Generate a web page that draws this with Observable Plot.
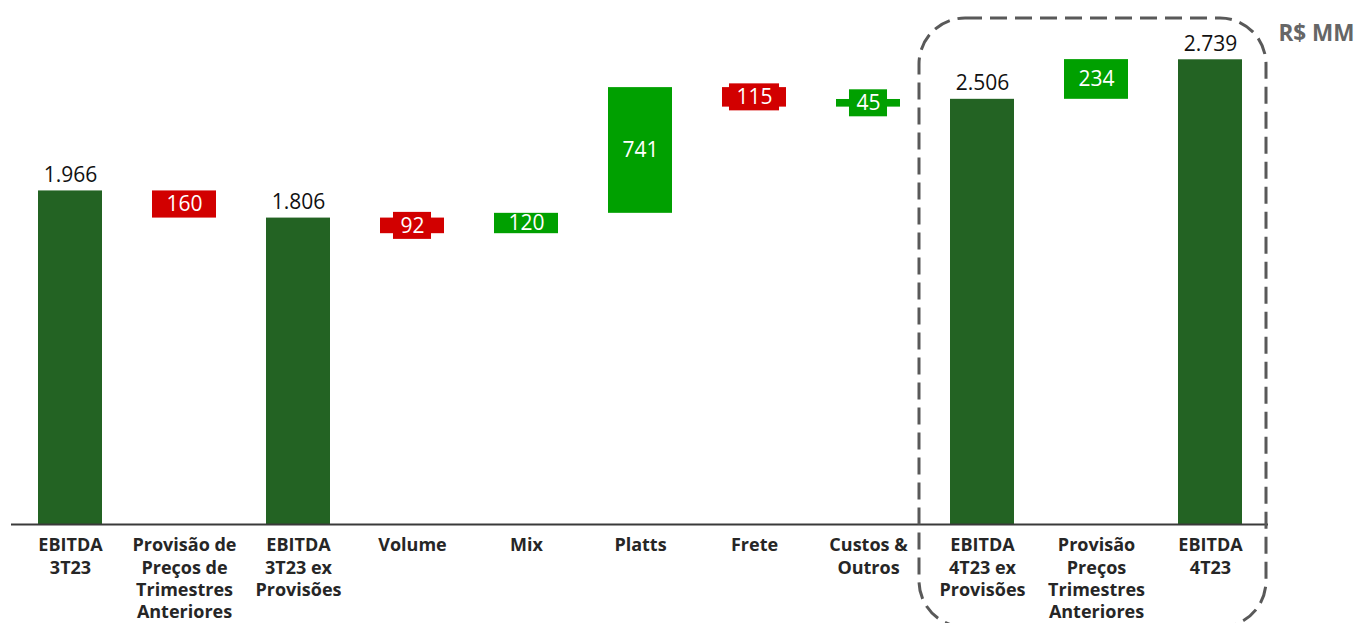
<!DOCTYPE html>
<html>
<head>
<meta charset="utf-8">
<script src="https://cdn.jsdelivr.net/npm/d3@7"></script>
<script src="https://cdn.jsdelivr.net/npm/@observablehq/plot@0.6"></script>
<style>
  html, body { margin: 0; padding: 0; background: #fff; }
  #chart { position: relative; width: 1360px; height: 623px; overflow: hidden; }
</style>
</head>
<body>
<div id="chart"></div>
<script>
// ---- Data ----
const categories = [
  "EBITDA\n3T23",
  "Provisão de\nPreços de\nTrimestres\nAnteriores",
  "EBITDA\n3T23 ex\nProvisões",
  "Volume",
  "Mix",
  "Platts",
  "Frete",
  "Custos &\nOutros",
  "EBITDA\n4T23 ex\nProvisões",
  "Provisão\nPreços\nTrimestres\nAnteriores",
  "EBITDA\n4T23"
];
const values = [1966, -160, 1806, -92, 120, 741, -115, 45, 2506, 234, 2739];
const kinds = ["total", "delta", "total", "delta", "delta", "delta", "delta", "delta", "total", "delta", "total"];
const boxedCategories = ["Volume", "Frete", "Custos &\nOutros"];
const highlightedCategories = ["EBITDA\n4T23 ex\nProvisões", "EBITDA\n4T23"];
const unitLabel = "R$ MM";

// ---- Build waterfall rows ----
let running = 0;
const rows = categories.map((cat, i) => {
  const v = values[i];
  let y1, y2;
  if (kinds[i] === "total") { y1 = 0; y2 = v; running = v; }
  else { y1 = running; y2 = running + v; running = y2; }
  return { cat, value: v, kind: kinds[i], y1, y2, mid: (y1 + y2) / 2 };
});
const fmt = v => d3.format(",")(Math.abs(v)).replace(/,/g, ".");
const colorOf = d => d.kind === "total" ? "#236323" : (d.value < 0 ? "#D20000" : "#00A000");

// ---- Layout ----
const W = 1360, H = 623, ML = 11, MR = 92, MT = 15, MB = 99;
const PI = 0.44, PO = 0.22;
const step = (W - ML - MR) / (categories.length - PI + 2 * PO);
const bw = step * (1 - PI);
const FONT = "'Open Sans', 'Liberation Sans', sans-serif";

const ctx = document.createElement("canvas").getContext("2d");
ctx.font = "21px 'Open Sans'";
const boxMarks = rows.filter(d => boxedCategories.includes(d.cat)).map(d => {
  const w = ctx.measureText(fmt(d.value)).width + 14;
  const inset = (bw - w) / 2;
  return Plot.barY([d], {
    x: "cat", y1: "mid", y2: "mid",
    insetTop: -13.5, insetBottom: -13.5, insetLeft: inset, insetRight: inset,
    fill: colorOf(d)
  });
});

const plot = Plot.plot({
  width: W, height: H,
  marginLeft: ML, marginRight: MR, marginTop: MT, marginBottom: MB,
  style: { fontFamily: FONT, background: "#fff", color: "#262626", overflow: "visible" },
  x: { domain: categories, paddingInner: PI, paddingOuter: PO, axis: null, label: null },
  y: { domain: [0, 3000], axis: null },
  marks: [
    Plot.barY(rows, { x: "cat", y1: "y1", y2: "y2", fill: colorOf }),
    ...boxMarks,
    Plot.ruleY([0], { stroke: "#3a3a3a", strokeWidth: 2 }),
    Plot.text(rows.filter(d => d.kind === "total"), {
      x: "cat", y: "y2", text: d => fmt(d.value),
      lineAnchor: "bottom", dy: -9, fontSize: 21, fill: "#111"
    }),
    Plot.text(rows.filter(d => d.kind === "delta"), {
      x: "cat", y: "mid", text: d => fmt(d.value),
      fontSize: 21, fill: "#fff"
    }),
    Plot.axisX({
      tickSize: 0, tickPadding: 11, fontSize: 18, fontWeight: "bold", label: null,
      lineHeight: 1.24, fill: "#262626", tickFormat: d => d
    }),
    Plot.text([unitLabel], {
      frameAnchor: "top-right", textAnchor: "start", lineAnchor: "top",
      dx: 10, dy: 10, fontSize: 22.5, fontWeight: "bold", fill: "#666"
    })
  ]
});

document.getElementById("chart").appendChild(plot);

// ---- Dashed highlight frame around the last three columns ----
const xs = plot.scale("x");
const left = xs.apply(highlightedCategories[0]) - 31;
const right = xs.apply(highlightedCategories[1]) + xs.bandwidth + 24;
d3.select(plot).append("rect")
  .attr("x", left).attr("y", 18)
  .attr("width", right - left).attr("height", 627 - 18)
  .attr("rx", 46).attr("ry", 46)
  .attr("fill", "none").attr("stroke", "#595959")
  .attr("stroke-width", 3).attr("stroke-dasharray", "17 8");
</script>
</body>
</html>
